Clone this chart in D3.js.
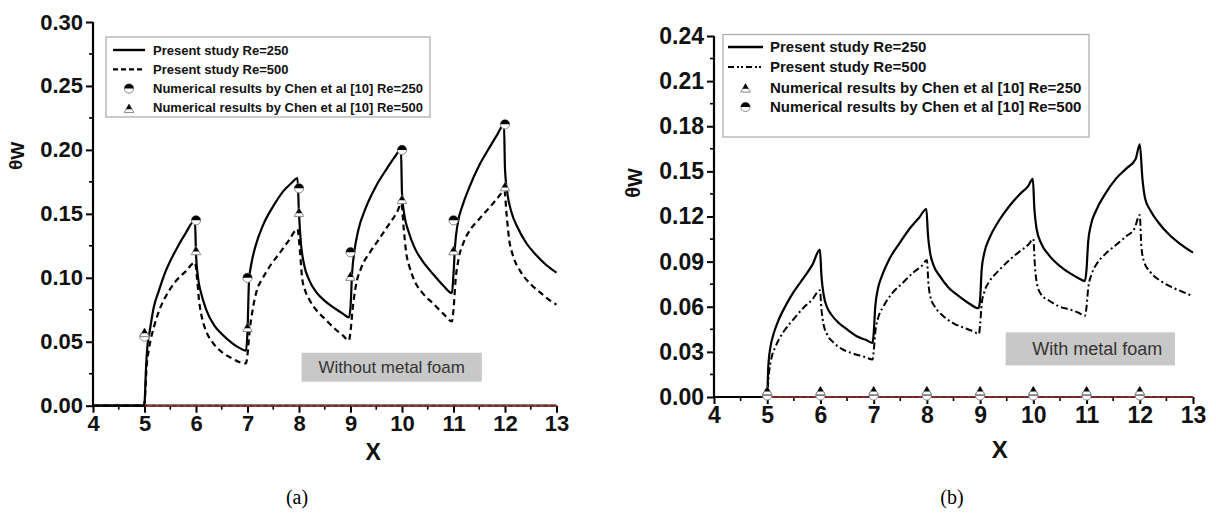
<!DOCTYPE html>
<html><head><meta charset="utf-8">
<script src="https://cdn.jsdelivr.net/npm/d3@7"></script>
<style>
html,body{margin:0;padding:0;background:#fff;}
svg text{font-family:"Liberation Sans",Arial,sans-serif;}
svg text.cap{font-family:"Liberation Serif","Times New Roman",serif;}
</style></head>
<body><svg id="c" width="1216" height="525"></svg>
<script>
// ---------- DATA ----------
const xTicks = [4,5,6,7,8,9,10,11,12,13];
const yTicksA = [0,0.05,0.10,0.15,0.20,0.25,0.30];
const yTicksB = [0,0.03,0.06,0.09,0.12,0.15,0.18,0.21,0.24];
const yLabelsA = ["0.00","0.05","0.10","0.15","0.20","0.25","0.30"];
const yLabelsB = ["0.00","0.03","0.06","0.09","0.12","0.15","0.18","0.21","0.24"];

// (a) Without metal foam
const aPresent250 = [[4,0],[4.98,0],[5.0,0.002],[5.03,0.03],[5.06,0.048],[5.1,0.058],[5.18,0.077],[5.28,0.09],[5.4,0.104],[5.6,0.121],[5.8,0.135],[5.98,0.145],
[6.0,0.119],[6.04,0.1],[6.1,0.088],[6.2,0.075],[6.35,0.063],[6.5,0.056],[6.7,0.049],[6.85,0.045],[6.97,0.043],
[7.0,0.058],[7.03,0.098],[7.08,0.112],[7.15,0.124],[7.3,0.141],[7.5,0.156],[7.7,0.168],[7.85,0.174],[7.97,0.178],
[8.0,0.15],[8.04,0.126],[8.1,0.11],[8.2,0.098],[8.35,0.088],[8.5,0.082],[8.7,0.076],[8.85,0.072],[8.97,0.069],
[9.0,0.077],[9.03,0.103],[9.08,0.122],[9.15,0.137],[9.3,0.155],[9.5,0.172],[9.7,0.185],[9.85,0.194],[9.98,0.2],
[10.0,0.166],[10.05,0.148],[10.12,0.137],[10.25,0.123],[10.4,0.113],[10.6,0.103],[10.8,0.094],[10.97,0.088],
[11.0,0.103],[11.03,0.125],[11.08,0.142],[11.18,0.157],[11.3,0.17],[11.5,0.188],[11.7,0.202],[11.85,0.212],[11.98,0.22],
[12.0,0.185],[12.05,0.165],[12.12,0.152],[12.25,0.139],[12.4,0.128],[12.6,0.118],[12.8,0.11],[13.0,0.104]];
const aPresent500 = [[4,0],[4.98,0],[5.0,0.002],[5.04,0.03],[5.09,0.045],[5.2,0.064],[5.3,0.076],[5.42,0.086],[5.6,0.097],[5.8,0.105],[5.98,0.112],
[6.02,0.1],[6.06,0.082],[6.12,0.068],[6.2,0.058],[6.35,0.048],[6.5,0.042],[6.7,0.037],[6.85,0.034],[6.97,0.033],
[7.0,0.04],[7.04,0.058],[7.1,0.075],[7.18,0.09],[7.3,0.1],[7.45,0.11],[7.6,0.118],[7.8,0.129],[7.97,0.138],
[8.02,0.12],[8.06,0.1],[8.12,0.09],[8.2,0.083],[8.35,0.074],[8.5,0.068],[8.7,0.06],[8.85,0.055],[8.97,0.051],
[9.0,0.058],[9.04,0.075],[9.1,0.093],[9.2,0.107],[9.38,0.12],[9.55,0.13],[9.75,0.142],[9.9,0.151],[9.99,0.158],
[10.03,0.14],[10.08,0.12],[10.15,0.108],[10.25,0.097],[10.4,0.088],[10.6,0.08],[10.8,0.072],[10.97,0.066],
[11.0,0.075],[11.04,0.098],[11.1,0.115],[11.2,0.128],[11.35,0.139],[11.5,0.146],[11.7,0.155],[11.85,0.162],[11.99,0.168],
[12.03,0.15],[12.08,0.13],[12.15,0.118],[12.3,0.105],[12.5,0.095],[12.7,0.088],[12.85,0.083],[13.0,0.079]];
const aChen250 = [[5,0.054],[6,0.145],[7,0.100],[8,0.170],[9,0.120],[10,0.200],[11,0.145],[12,0.220]];
const aChen500 = [[5,0.057],[6,0.121],[7,0.061],[8,0.151],[9,0.101],[10,0.161],[11,0.121],[12,0.171]];

// (b) With metal foam
const bPresent250 = [[4,0],[4.98,0],[5.0,0.002],[5.02,0.02],[5.06,0.033],[5.12,0.042],[5.2,0.05],[5.35,0.061],[5.5,0.07],[5.7,0.08],[5.85,0.088],[5.99,0.098],
[6.02,0.08],[6.06,0.068],[6.12,0.06],[6.2,0.055],[6.35,0.049],[6.5,0.045],[6.7,0.04],[6.85,0.038],[6.98,0.036],
[7.0,0.042],[7.03,0.06],[7.08,0.072],[7.15,0.08],[7.3,0.092],[7.5,0.103],[7.7,0.113],[7.85,0.119],[7.99,0.125],
[8.02,0.108],[8.06,0.096],[8.12,0.088],[8.25,0.08],[8.4,0.073],[8.6,0.067],[8.8,0.062],[8.97,0.059],
[9.0,0.065],[9.03,0.085],[9.08,0.096],[9.18,0.106],[9.35,0.117],[9.55,0.127],[9.75,0.135],[9.9,0.14],[9.99,0.145],
[10.02,0.125],[10.06,0.112],[10.15,0.102],[10.3,0.094],[10.5,0.087],[10.7,0.082],[10.85,0.079],[10.97,0.077],
[11.0,0.085],[11.03,0.103],[11.08,0.114],[11.18,0.124],[11.35,0.135],[11.55,0.145],[11.75,0.152],[11.92,0.158],[12.0,0.168],
[12.05,0.145],[12.1,0.132],[12.2,0.124],[12.35,0.116],[12.55,0.108],[12.75,0.102],[13.0,0.096]];
const bPresent500 = [[4,0],[4.98,0],[5.0,0.002],[5.03,0.015],[5.08,0.026],[5.15,0.033],[5.3,0.043],[5.5,0.052],[5.7,0.06],[5.85,0.065],[5.99,0.071],
[6.02,0.058],[6.06,0.048],[6.12,0.042],[6.25,0.036],[6.4,0.032],[6.6,0.029],[6.8,0.027],[6.98,0.025],
[7.0,0.03],[7.03,0.043],[7.08,0.052],[7.18,0.06],[7.35,0.069],[7.55,0.076],[7.75,0.083],[7.9,0.087],[8.0,0.091],
[8.03,0.075],[8.07,0.066],[8.15,0.06],[8.3,0.054],[8.5,0.049],[8.7,0.046],[8.85,0.044],[8.98,0.042],
[9.0,0.048],[9.03,0.062],[9.08,0.07],[9.18,0.077],[9.35,0.084],[9.55,0.091],[9.75,0.097],[9.9,0.101],[10.0,0.105],
[10.03,0.087],[10.07,0.075],[10.15,0.068],[10.3,0.064],[10.5,0.06],[10.7,0.058],[10.85,0.056],[10.97,0.054],
[11.0,0.06],[11.03,0.072],[11.1,0.082],[11.2,0.089],[11.35,0.095],[11.55,0.101],[11.75,0.107],[11.9,0.112],[12.0,0.121],
[12.03,0.1],[12.08,0.09],[12.2,0.083],[12.4,0.077],[12.6,0.073],[12.8,0.07],[13.0,0.067]];
const bChen250 = [[5,0.004],[6,0.004],[7,0.004],[8,0.004],[9,0.004],[10,0.004],[11,0.004],[12,0.004]];
const bChen500 = [[5,0.001],[6,0.001],[7,0.001],[8,0.001],[9,0.001],[10,0.001],[11,0.001],[12,0.001]];

const legendA = ["Present study Re=250","Present study Re=500","Numerical results by Chen et al [10] Re=250","Numerical results by Chen et al [10] Re=500"];
const legendB = ["Present study Re=250","Present study Re=500","Numerical results by Chen et al [10] Re=250","Numerical results by Chen et al [10] Re=500"];

// ---------- DRAW ----------
const svg = d3.select("#c");

function circleMarker(g, x, y, r){
  g.append("circle").attr("cx",x).attr("cy",y).attr("r",r).attr("fill","#fff").attr("stroke","#8a8a8a").attr("stroke-width",1);
  g.append("path").attr("d",`M${x-r},${y} A${r},${r} 0 0 1 ${x+r},${y} Z`).attr("fill","#000");
}
function triMarker(g, x, y, s){
  const h = s*1.0;
  g.append("path").attr("d",`M${x},${y-h} L${x+s},${y+h*0.8} L${x-s},${y+h*0.8} Z`).attr("fill","#fff").attr("stroke","#8a8a8a").attr("stroke-width",1);
  const t = 0.62;
  const yb = y-h + t*(1.8*h), wb = s*t;
  g.append("path").attr("d",`M${x},${y-h} L${x+wb},${yb} L${x-wb},${yb} Z`).attr("fill","#000");
}

function drawPanel(cfg){
  const x = d3.scaleLinear().domain([4,13]).range(cfg.xr);
  const y = d3.scaleLinear().domain(cfg.yd).range(cfg.yr);
  const g = svg.append("g");

  const xMinor = d3.range(4.5,13,1);
  const yMinor = cfg.yMinor;
  g.selectAll(".xm").data(xMinor).enter().append("line")
    .attr("x1",d=>x(d)).attr("x2",d=>x(d)).attr("y1",y(0)).attr("y2",y(0)+4)
    .attr("stroke","#000").attr("stroke-width",1.6);
  g.selectAll(".ym").data(yMinor).enter().append("line")
    .attr("x1",x(4)-4).attr("x2",x(4)).attr("y1",d=>y(d)).attr("y2",d=>y(d))
    .attr("stroke","#000").attr("stroke-width",1.6);

  const xAxis = d3.axisBottom(x).tickValues(xTicks).tickFormat(d3.format("d")).tickSize(7).tickPadding(3);
  const gx = g.append("g").attr("transform",`translate(0,${y(0)})`).call(xAxis);
  gx.select(".domain").attr("stroke","#000").attr("stroke-width",2.2).attr("d",`M${x(4)},0H${x(13)}`);
  gx.selectAll(".tick line").attr("stroke","#000").attr("stroke-width",2);
  gx.selectAll(".tick text").attr("font-size",cfg.fs).attr("font-weight","bold").attr("fill","#111");

  const yAxis = d3.axisLeft(y).tickValues(cfg.yTicks).tickFormat((d,i)=>cfg.yLabels[i]).tickSize(7).tickPadding(3);
  const gy = g.append("g").attr("transform",`translate(${x(4)},0)`).call(yAxis);
  gy.select(".domain").attr("stroke","#000").attr("stroke-width",2.2).attr("d",`M0,${y(0)}V${y(cfg.yd[1])}`);
  gy.selectAll(".tick line").attr("stroke","#000").attr("stroke-width",2);
  gy.selectAll(".tick text").attr("font-size",cfg.fs).attr("font-weight","bold").attr("fill","#111");

  g.append("line").attr("x1",x(4)).attr("x2",x(13)).attr("y1",y(0)).attr("y2",y(0))
    .attr("stroke","#b83a3a").attr("stroke-width",1.6);
  g.append("line").attr("x1",x(5)).attr("x2",x(13)).attr("y1",y(0)).attr("y2",y(0))
    .attr("stroke","#222").attr("stroke-width",1).attr("stroke-dasharray","4,3").attr("opacity",0.7);

  const line = d3.line().x(d=>x(d[0])).y(d=>y(d[1])).curve(d3.curveMonotoneX);
  g.append("path").datum(cfg.s500).attr("d",line).attr("fill","none").attr("stroke","#000")
    .attr("stroke-width",cfg.lw500).attr("stroke-dasharray",cfg.dash);
  g.append("path").datum(cfg.s250).attr("d",line).attr("fill","none").attr("stroke","#000")
    .attr("stroke-width",2.2).attr("stroke-linejoin","round");

  const mg = g.append("g");
  cfg.circ.forEach(d=>circleMarker(mg, x(d[0]), y(d[1]), 4.6));
  cfg.tri.forEach(d=>triMarker(mg, x(d[0]), y(d[1]), 4.8));

  const b = cfg.box;
  g.append("rect").attr("x",x(b.x0)).attr("y",y(b.y1)).attr("width",x(b.x1)-x(b.x0)).attr("height",y(b.y0)-y(b.y1))
    .attr("fill","#c8c8c8");
  g.append("text").attr("x",(x(b.x0)+x(b.x1))/2 + b.dx).attr("y",(y(b.y0)+y(b.y1))/2).attr("dy","0.36em")
    .attr("text-anchor","middle").attr("font-size",b.fs).attr("fill","#333").text(b.text);

  g.append("text").attr("x",x(cfg.xt)).attr("y",cfg.xty).attr("text-anchor","middle")
    .attr("font-size",cfg.fs+1).attr("font-weight","bold").attr("fill","#111").text("X");
  const yt = g.append("text").attr("transform",`translate(${cfg.ytx},${cfg.yty}) rotate(-90)`)
    .attr("text-anchor","middle").attr("font-size",cfg.ytfs).attr("font-weight","bold").attr("fill","#111");
  yt.append("tspan").text("θ");
  yt.append("tspan").attr("dy","0.12em").text("W");

  const L = cfg.leg;
  g.append("rect").attr("x",L.x0).attr("y",L.y0).attr("width",L.x1-L.x0).attr("height",L.y1-L.y0)
    .attr("fill","#fff").attr("stroke","#a8a8a8").attr("stroke-width",1.2);
  cfg.legItems.forEach((t,i)=>{
    const ry = L.rows[i];
    if(i===0){
      g.append("line").attr("x1",L.lx0).attr("x2",L.lx1).attr("y1",ry).attr("y2",ry).attr("stroke","#000").attr("stroke-width",2.4);
    } else if(i===1){
      g.append("line").attr("x1",L.lx0).attr("x2",L.lx1).attr("y1",ry).attr("y2",ry).attr("stroke","#000").attr("stroke-width",2.2).attr("stroke-dasharray",cfg.legDash);
    } else {
      const kind = cfg.legKinds[i-2];
      if(kind==="c") circleMarker(g,(L.lx0+L.lx1)/2,ry,4.6); else triMarker(g,(L.lx0+L.lx1)/2,ry+1,4.8);
    }
    g.append("text").attr("x",L.tx).attr("y",ry).attr("dy","0.36em").attr("font-size",L.fs)
      .attr("font-weight","bold").attr("fill","#111").text(t);
  });
}

drawPanel({
  xr:[93,556.5], yd:[0,0.30], yr:[405.7,22], fs:22,
  yTicks:yTicksA, yLabels:yLabelsA, yMinor:d3.range(0.025,0.30,0.05),
  s250:aPresent250, s500:aPresent500, lw500:2.2, dash:"6,4",
  circ:aChen250, tri:aChen500,
  box:{x0:8.05,x1:11.55,y0:0.0188,y1:0.0414,text:"Without metal foam",fs:17,dx:0},
  xt:9.44, xty:460, ytx:22, yty:156, ytfs:19,
  leg:{x0:106,x1:430,y0:37,y1:117,rows:[50,69.3,88.5,107.7],lx0:113,lx1:145,tx:153,fs:13},
  legItems:legendA, legKinds:["c","t"], legDash:"5,3"
});

drawPanel({
  xr:[714,1193], yd:[0,0.24], yr:[397,36], fs:23,
  yTicks:yTicksB, yLabels:yLabelsB, yMinor:d3.range(0.015,0.24,0.03),
  s250:bPresent250, s500:bPresent500, lw500:2, dash:"7,3,2,3",
  circ:bChen500, tri:bChen250,
  box:{x0:9.48,x1:12.66,y0:0.021,y1:0.043,text:"With metal foam",fs:18,dx:7},
  xt:9.37, xty:458, ytx:640, yty:183, ytfs:20,
  leg:{x0:723,x1:1089,y0:34.5,y1:137,rows:[47,67,87.3,107],lx0:728,lx1:763,tx:770,fs:15},
  legItems:legendB, legKinds:["t","c"], legDash:"6,3,2,2,2,3"
});

svg.append("text").attr("class","cap").attr("x",297).attr("y",504).attr("text-anchor","middle")
  .attr("font-size",20).text("(a)");
svg.append("text").attr("class","cap").attr("x",952).attr("y",504).attr("text-anchor","middle")
  .attr("font-size",20).text("(b)");
</script></body></html>
